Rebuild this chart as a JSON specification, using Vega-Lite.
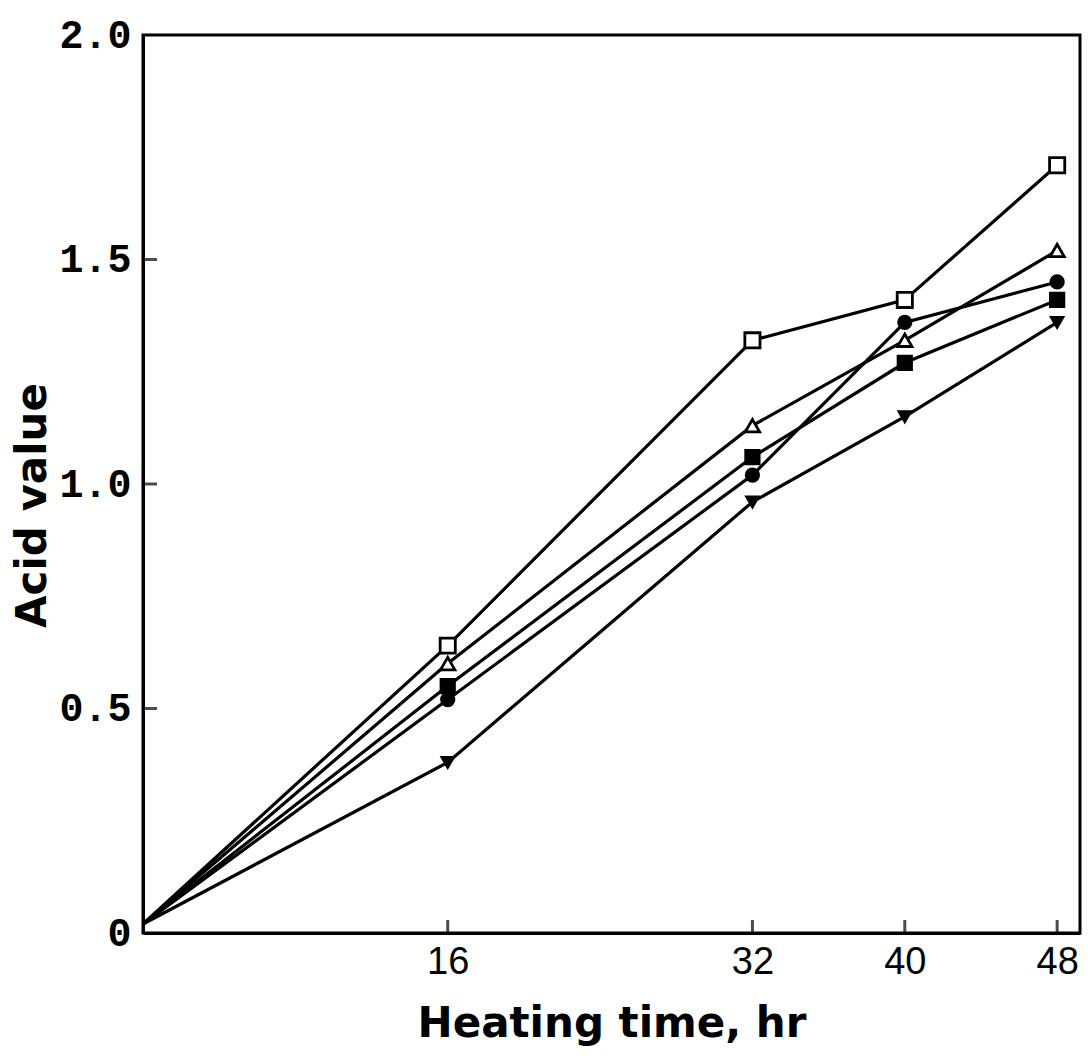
{
  "$schema": "https://vega.github.io/schema/vega-lite/v6.json",
  "autosize": {"type": "none"},
  "padding": {"left": 143, "top": 35, "right": 8, "bottom": 126},
  "width": 937,
  "height": 898,
  "background": "white",
  "config": {
    "view": {"stroke": "black", "strokeWidth": 3},
    "axis": {"grid": false, "ticks": false, "domainColor": "black", "domainWidth": 3, "labelColor": "black", "titleColor": "black"}
  },
  "datasets": {
    "series": [
      {"series": "open square", "t": 0, "v": 0.02},
      {"series": "open square", "t": 16, "v": 0.64},
      {"series": "open square", "t": 32, "v": 1.32},
      {"series": "open square", "t": 40, "v": 1.41},
      {"series": "open square", "t": 48, "v": 1.71},
      {"series": "open triangle", "t": 0, "v": 0.02},
      {"series": "open triangle", "t": 16, "v": 0.6},
      {"series": "open triangle", "t": 32, "v": 1.13},
      {"series": "open triangle", "t": 40, "v": 1.32},
      {"series": "open triangle", "t": 48, "v": 1.52},
      {"series": "filled square", "t": 0, "v": 0.02},
      {"series": "filled square", "t": 16, "v": 0.55},
      {"series": "filled square", "t": 32, "v": 1.06},
      {"series": "filled square", "t": 40, "v": 1.27},
      {"series": "filled square", "t": 48, "v": 1.41},
      {"series": "filled circle", "t": 0, "v": 0.02},
      {"series": "filled circle", "t": 16, "v": 0.52},
      {"series": "filled circle", "t": 32, "v": 1.02},
      {"series": "filled circle", "t": 40, "v": 1.36},
      {"series": "filled circle", "t": 48, "v": 1.45},
      {"series": "filled inverted triangle", "t": 0, "v": 0.02},
      {"series": "filled inverted triangle", "t": 16, "v": 0.38},
      {"series": "filled inverted triangle", "t": 32, "v": 0.96},
      {"series": "filled inverted triangle", "t": 40, "v": 1.15},
      {"series": "filled inverted triangle", "t": 48, "v": 1.36}
    ],
    "xticks": [{"t": 16}, {"t": 32}, {"t": 40}, {"t": 48}],
    "yticks": [{"v": 0.5}, {"v": 1.0}, {"v": 1.5}]
  },
  "layer": [
    {
      "data": {"name": "series"},
      "mark": {"type": "line", "color": "black", "strokeWidth": 3.2},
      "encoding": {
        "x": {
          "field": "t", "type": "quantitative",
          "scale": {"domain": [0, 49.2], "nice": false, "zero": true},
          "axis": {
            "values": [16, 32, 40, 48],
            "labelPadding": 10,
            "labelFont": "Liberation Sans",
            "labelFontSize": 38,
            "title": "Heating time, hr",
            "titleFont": "DejaVu Sans",
            "titleFontSize": 42,
            "titleFontWeight": "bold",
            "titlePadding": 22
          }
        },
        "y": {
          "field": "v", "type": "quantitative",
          "scale": {"domain": [0, 2.0], "nice": false},
          "axis": {
            "values": [0, 0.5, 1.0, 1.5, 2.0],
            "labelExpr": "datum.value == 0 ? '0' : format(datum.value, '.1f')",
            "labelPadding": 12,
            "labelFont": "Liberation Mono",
            "labelFontWeight": "bold",
            "labelFontSize": 40,
            "title": "Acid value",
            "titleFont": "DejaVu Sans",
            "titleFontSize": 42,
            "titleFontWeight": "bold",
            "titlePadding": 4,
            "titleY": 470
          }
        },
        "detail": {"field": "series"}
      }
    },
    {
      "data": {"name": "xticks"},
      "mark": {"type": "tick", "orient": "vertical", "color": "black", "size": 13, "thickness": 3},
      "encoding": {
        "x": {"field": "t", "type": "quantitative"},
        "y": {"datum": 0.0145, "type": "quantitative"}
      }
    },
    {
      "data": {"name": "yticks"},
      "mark": {"type": "tick", "orient": "horizontal", "color": "black", "size": 14, "thickness": 3},
      "encoding": {
        "y": {"field": "v", "type": "quantitative"},
        "x": {"datum": 0.37, "type": "quantitative"}
      }
    },
    {
      "data": {"name": "series"},
      "transform": [{"filter": "datum.t > 0"}],
      "mark": {"type": "point", "filled": true, "stroke": "black", "strokeWidth": 2.8, "opacity": 1},
      "encoding": {
        "x": {"field": "t", "type": "quantitative"},
        "y": {"field": "v", "type": "quantitative"},
        "shape": {
          "field": "series", "type": "nominal", "legend": null,
          "scale": {
            "domain": ["open square", "open triangle", "filled square", "filled circle", "filled inverted triangle"],
            "range": ["square", "triangle-up", "square", "circle", "triangle-down"]
          }
        },
        "fill": {
          "field": "series", "type": "nominal", "legend": null,
          "scale": {
            "domain": ["open square", "open triangle", "filled square", "filled circle", "filled inverted triangle"],
            "range": ["white", "white", "black", "black", "black"]
          }
        },
        "size": {
          "field": "series", "type": "nominal", "legend": null,
          "scale": {
            "domain": ["open square", "open triangle", "filled square", "filled circle", "filled inverted triangle"],
            "range": [230, 130, 170, 210, 260]
          }
        }
      }
    }
  ]
}
